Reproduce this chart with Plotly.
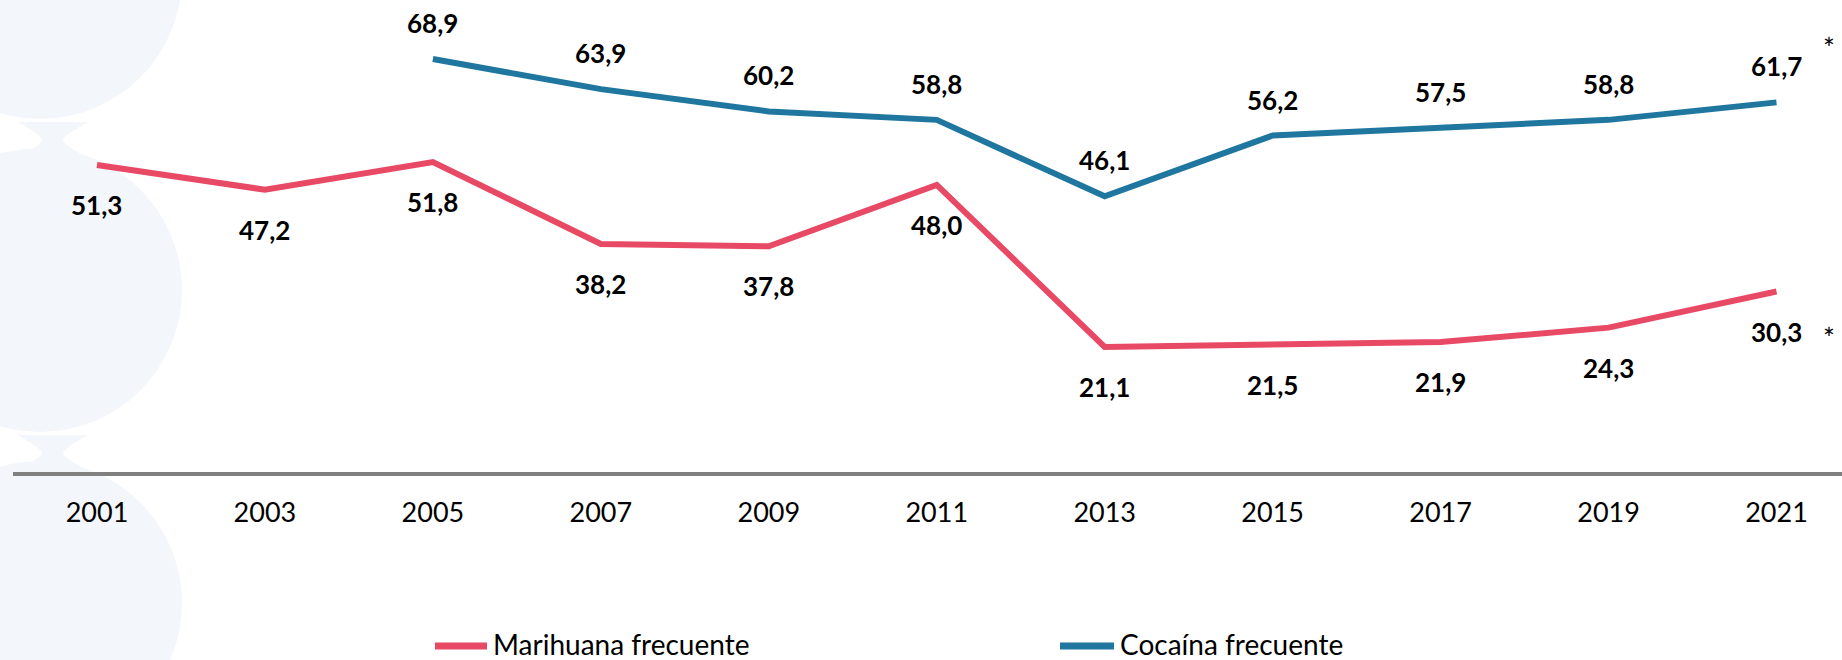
import plotly.graph_objects as go

years = ['2001', '2003', '2005', '2007', '2009', '2011', '2013', '2015', '2017', '2019', '2021']
marihuana = [51.3, 47.2, 51.8, 38.2, 37.8, 48.0, 21.1, 21.5, 21.9, 24.3, 30.3]
cocaina = [None, None, 68.9, 63.9, 60.2, 58.8, 46.1, 56.2, 57.5, 58.8, 61.7]
labels_marihuana = ['51,3', '47,2', '51,8', '38,2', '37,8', '48,0', '21,1', '21,5', '21,9', '24,3', '30,3']
labels_cocaina = [None, None, '68,9', '63,9', '60,2', '58,8', '46,1', '56,2', '57,5', '58,8', '61,7']
series_names = ['Marihuana frecuente', 'Cocaína frecuente']

pink = '#E84A66'
blue = '#1F77A0'
font = 'Lato, Arial, sans-serif'

W, H = 1842, 660
L, B = 13, 186
PW, PH = W - L, H - B


def px(x):
    # page pixel -> paper x
    return (x - L) / PW


def py(y):
    # page pixel (from top) -> paper y
    return (PH - y) / PH


fig = go.Figure()
fig.add_trace(go.Scatter(x=years, y=marihuana, mode='lines', name=series_names[0],
                         line=dict(color=pink, width=6), showlegend=False))
fig.add_trace(go.Scatter(x=years, y=cocaina, mode='lines', name=series_names[1],
                         line=dict(color=blue, width=6), showlegend=False))

# data labels: marihuana below, cocaine above
# (annotation x given as category index: numeric-looking strings are read as indices)
for i, (v, t) in enumerate(zip(marihuana, labels_marihuana)):
    fig.add_annotation(x=i, y=v, text='<b>' + t + '</b>', showarrow=False,
                       yshift=-40, yanchor='middle', font=dict(size=26, color='black', family=font))
for i, (v, t) in enumerate(zip(cocaina, labels_cocaina)):
    if v is None:
        continue
    fig.add_annotation(x=i, y=v, text='<b>' + t + '</b>', showarrow=False,
                       yshift=36, yanchor='middle', font=dict(size=26, color='black', family=font))

# asterisks on the last year
last = len(years) - 1
fig.add_annotation(x=last, y=cocaina[-1], text='*', showarrow=False, xshift=52, yshift=54,
                   font=dict(size=28, color='black', family=font))
fig.add_annotation(x=last, y=marihuana[-1], text='*', showarrow=False, xshift=52, yshift=-46,
                   font=dict(size=28, color='black', family=font))

# light decorative blobs on the left
blob = '#F3F6FB'
cx, r = 40, 142
for cy in [-23, 290, 603, 916]:
    fig.add_shape(type='circle', xref='paper', yref='paper',
                  x0=px(cx - r), x1=px(cx + r), y0=py(cy + r), y1=py(cy - r),
                  fillcolor=blob, line_width=0, layer='below')
for n in [140, 453]:
    pts = [(18, n - 18), (42, n - 4), (42, n), (42, n + 4), (18, n + 18),
           (88, n + 18), (63, n + 4), (63, n), (63, n - 4), (88, n - 18)]
    p = [(px(a), py(b)) for a, b in pts]
    path = ('M {0[0]},{0[1]} Q {1[0]},{1[1]} {2[0]},{2[1]} Q {3[0]},{3[1]} {4[0]},{4[1]} '
            'L {5[0]},{5[1]} Q {6[0]},{6[1]} {7[0]},{7[1]} Q {8[0]},{8[1]} {9[0]},{9[1]} Z').format(*p)
    fig.add_shape(type='path', xref='paper', yref='paper', path=path,
                  fillcolor=blob, line_width=0, layer='below')

# legend drawn by hand to get the long line swatches
legend_y = 644
legend_items = [(435, 487, pink), (1060, 1114, blue)]
for (a, b, c), name in zip(legend_items, series_names):
    fig.add_shape(type='line', xref='paper', yref='paper', x0=px(a), x1=px(b),
                  y0=py(legend_y + 2), y1=py(legend_y + 2), line=dict(color=c, width=7))
    fig.add_annotation(xref='paper', yref='paper', x=px(b + 5), y=py(legend_y), text=name,
                       showarrow=False, xanchor='left', yanchor='middle', borderpad=0,
                       font=dict(size=28, color='black', family=font))

fig.update_layout(
    width=W, height=H,
    margin=dict(l=L, r=0, t=0, b=B, autoexpand=False),
    plot_bgcolor='rgba(0,0,0,0)', paper_bgcolor='white',
    font=dict(family=font, color='black'),
    showlegend=False,
)
fig.update_xaxes(type='category', range=[-0.5, 10.39], showgrid=False, zeroline=False,
                 showline=False, ticks='', tickfont=dict(size=27, family=font), ticklabelstandoff=20)
fig.update_yaxes(range=[0, 78.7], showgrid=False, zeroline=True, zerolinecolor='#808080',
                 zerolinewidth=4, showticklabels=False)

fig.write_html('out.html', config={'displayModeBar': False},
               post_script="document.body.style.margin='0';")
